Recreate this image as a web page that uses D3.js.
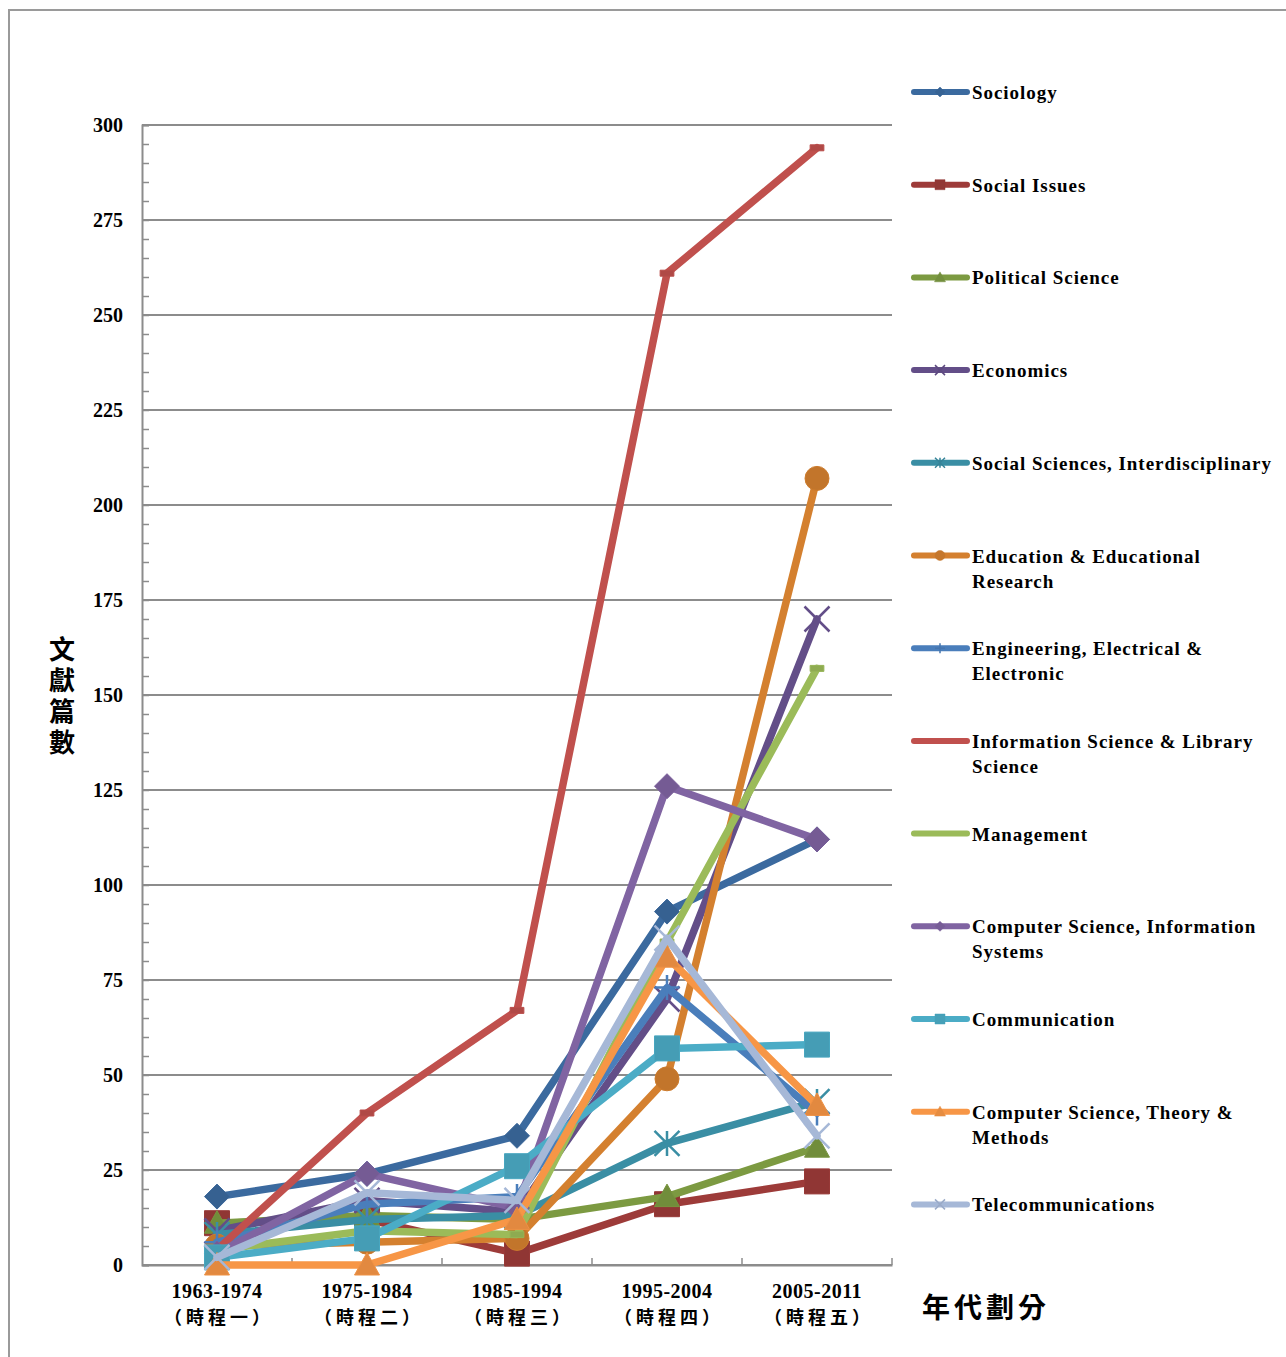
<!DOCTYPE html>
<html><head><meta charset="utf-8">
<script src="https://cdn.jsdelivr.net/npm/d3@7"></script>
<style>body{margin:0;background:#fff}svg{display:block}</style>
</head><body>
<script>
const categories = ["1963-1974","1975-1984","1985-1994","1995-2004","2005-2011"];
const periodLabels = ["（時程一）","（時程二）","（時程三）","（時程四）","（時程五）"];
const yTicks = [0,25,50,75,100,125,150,175,200,225,250,275,300];
const seriesNames = ["Sociology","Social Issues","Political Science","Economics","Social Sciences, Interdisciplinary","Education & Educational Research","Engineering, Electrical & Electronic","Information Science & Library Science","Management","Computer Science, Information Systems","Communication","Computer Science, Theory & Methods","Telecommunications"];
const sociology = [18,24,34,93,112];
const socialIssues = [11,12,3,16,22];
const politicalScience = [11,13,12,18,31];
const economics = [9,17,14,70,170];
const socialSciInter = [8,12,13,32,43];
const education = [5,6,7,49,207];
const engineering = [6,16,18,73,40];
const infoSci = [4,40,67,261,294];
const management = [4,9,8,85,157];
const csInfoSys = [3,24,15,126,112];
const communication = [2,7,26,57,58];
const csTheory = [0,0,12,81,42];
const telecom = [2,19,17,86,34];
const seriesValues = [sociology,socialIssues,politicalScience,economics,socialSciInter,education,engineering,infoSci,management,csInfoSys,communication,csTheory,telecom];
const colors = ["#3b6a9f","#9d3b39","#7c9a41","#634e88","#3a8ea4","#d4802f","#4a7ebb","#c0504d","#9bbb59","#8064a2","#4bacc6","#f79646","#a6b8d7"];
const markers = ["diamond","square","triangle","x","asterisk","circle","plus","dash","dash","diamond","square","triangle","x"];
const legendLines = [["Sociology"],["Social Issues"],["Political Science"],["Economics"],["Social Sciences, Interdisciplinary"],["Education & Educational","Research"],["Engineering, Electrical &","Electronic"],["Information Science & Library","Science"],["Management"],["Computer Science, Information","Systems"],["Communication"],["Computer Science, Theory &","Methods"],["Telecommunications"]];

const W=1286,H=1357;
const svg=d3.select("body").append("svg").attr("width",W).attr("height",H);
svg.append("rect").attr("x",9).attr("y",10).attr("width",1300).attr("height",1400).attr("fill","#fff").attr("stroke","#9a9a9a").attr("stroke-width",2);

const m={left:142,right:892,top:125,bottom:1265};
const x=d3.scaleBand().domain(categories).range([m.left,m.right]);
const y=d3.scaleLinear().domain([0,300]).range([m.bottom,m.top]);
const serif="'Liberation Serif','Times New Roman',serif";
const cjk="'Noto Sans CJK TC','Noto Sans CJK SC',sans-serif";

// gridlines
svg.append("g").selectAll("line").data(yTicks).join("line")
  .attr("x1",m.left).attr("x2",m.right).attr("y1",d=>y(d)).attr("y2",d=>y(d))
  .attr("stroke","#8c8c8c").attr("stroke-width",2);
// y axis
const ya=svg.append("g").attr("transform",`translate(${m.left},0)`)
  .call(d3.axisLeft(y).tickValues(d3.range(0,301,5)).tickSize(-7).tickFormat(""));
ya.select(".domain").attr("stroke","#8c8c8c").attr("stroke-width",2);
ya.selectAll(".tick line").attr("stroke","#8c8c8c").attr("stroke-width",1.5);
svg.append("g").selectAll("text").data(yTicks).join("text")
  .attr("x",123).attr("y",d=>y(d)+7).attr("text-anchor","end")
  .attr("font-family",serif).attr("font-weight","bold").attr("font-size",20).text(d=>d);
// x axis
const xa=svg.append("g").attr("transform",`translate(0,${m.bottom})`)
  .call(d3.axisBottom(x).tickSize(0).tickFormat(""));
xa.select(".domain").attr("stroke","#8c8c8c").attr("stroke-width",2);
svg.append("g").selectAll("line").data(categories).join("line")
  .attr("x1",d=>x(d)+x.bandwidth()).attr("x2",d=>x(d)+x.bandwidth())
  .attr("y1",m.bottom-7).attr("y2",m.bottom).attr("stroke","#8c8c8c").attr("stroke-width",1.5);
svg.append("g").selectAll("text").data(categories).join("text")
  .attr("x",d=>x(d)+x.bandwidth()/2).attr("y",1298).attr("text-anchor","middle")
  .attr("font-family",serif).attr("font-weight","bold").attr("font-size",20).attr("letter-spacing",0.5).text(d=>d);
svg.append("g").selectAll("text").data(periodLabels).join("text")
  .attr("x",(d,i)=>x(categories[i])+x.bandwidth()/2+2).attr("y",1324).attr("text-anchor","middle")
  .attr("font-family",cjk).attr("font-weight","bold").attr("font-size",18).attr("letter-spacing",4).text(d=>d);

// axis titles
svg.append("text").attr("x",62).attr("y",636)
  .attr("writing-mode","vertical-rl").attr("style","writing-mode:vertical-rl")
  .attr("font-family",cjk).attr("font-weight","bold").attr("font-size",26).attr("letter-spacing",5).text("文獻篇數");
svg.append("text").attr("x",922).attr("y",1318).attr("font-family",cjk).attr("font-weight","bold")
  .attr("font-size",28).attr("letter-spacing",4).text("年代劃分");

function markerPath(type,s){
  const h=s/2;
  switch(type){
    case "diamond": return `M0,${-h}L${h},0L0,${h}L${-h},0Z`;
    case "square": return `M${-h},${-h}H${h}V${h}H${-h}Z`;
    case "triangle": return `M0,${-h}L${h},${h*0.8}H${-h}Z`;
    case "circle": return `M${h},0A${h},${h} 0 1,1 ${-h},0A${h},${h} 0 1,1 ${h},0Z`;
    case "x": return `M${-h},${-h}L${h},${h}M${h},${-h}L${-h},${h}`;
    case "asterisk": return `M${-h},${-h}L${h},${h}M${h},${-h}L${-h},${h}M0,${-h}V${h}`;
    case "plus": return `M0,${-h}V${h}M${-h},0H${h}`;
    case "dash": return `M${-h*0.55},-3H${h*0.55}V3H${-h*0.55}Z`;
  }
}
const filled=t=>["diamond","square","triangle","circle","dash"].includes(t);
const line=d3.line().x((d,i)=>x(categories[i])+x.bandwidth()/2).y(d=>y(d));

seriesValues.forEach((vals,si)=>{
  const g=svg.append("g");
  g.append("path").datum(vals).attr("d",line).attr("fill","none")
    .attr("stroke",colors[si]).attr("stroke-width",7.5).attr("stroke-linejoin","round").attr("stroke-linecap","round");
  const t=markers[si];
  const col=d3.color(colors[si]).darker(0.25);
  g.selectAll("path.mk").data(vals).join("path").attr("class","mk")
    .attr("transform",(d,i)=>`translate(${x(categories[i])+x.bandwidth()/2},${y(d)})`)
    .attr("d",markerPath(t,t==="circle"?24:25))
    .attr("fill",filled(t)?col:"none")
    .attr("stroke",filled(t)?d3.color(colors[si]).darker(0.1):colors[si])
    .attr("stroke-width",filled(t)?1:2.5);
});

// legend
const lg=svg.append("g");
legendLines.forEach((lines,i)=>{
  const ly=92+i*92.7;
  const g=lg.append("g");
  g.append("line").attr("x1",914).attr("x2",967).attr("y1",ly).attr("y2",ly)
    .attr("stroke",colors[i]).attr("stroke-width",6).attr("stroke-linecap","round");
  const t=markers[i];
  if(!(i===7||i===8)){
    g.append("path").attr("transform",`translate(940,${ly})`).attr("d",markerPath(t,t==="triangle"?11:10))
      .attr("fill",filled(t)?d3.color(colors[i]).darker(0.2):"none")
      .attr("stroke",d3.color(colors[i]).darker(0.2)).attr("stroke-width",filled(t)?0.5:1.5);
  }
  lines.forEach((txt,j)=>{
    g.append("text").attr("x",972).attr("y",ly+7+j*25).attr("font-family",serif)
      .attr("font-weight","bold").attr("font-size",19).attr("letter-spacing",0.95).text(txt);
  });
});
</script>
</body></html>
